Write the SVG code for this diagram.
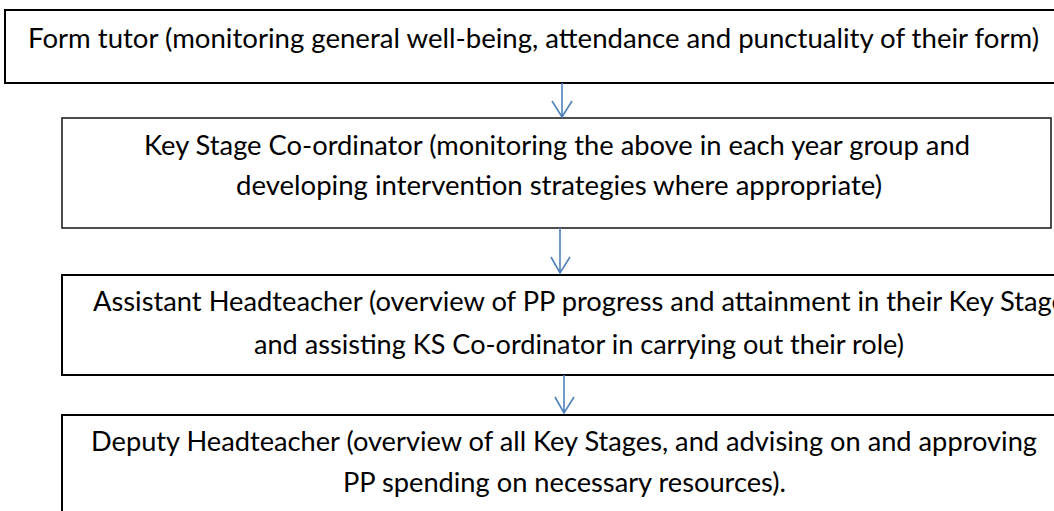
<svg xmlns="http://www.w3.org/2000/svg" width="1054" height="511" viewBox="0 0 1054 511">
<style>
.box{fill:#ffffff;stroke:#000000;stroke-width:2}
.thin{stroke:#222222;stroke-width:1.6}
.t{font-family:Lato,"Open Sans","Liberation Sans",sans-serif;font-size:26px;fill:#000000}
.arr{fill:none;stroke:#4f81bd;stroke-width:1.6}
</style>
<rect width="1054" height="511" fill="#ffffff"/>
<g id="node-form-tutor">
<rect class="box" x="5" y="10" width="1070" height="73"/>
<text class="t" x="28" y="48" textLength="1011" lengthAdjust="spacingAndGlyphs">Form tutor (monitoring general well-being, attendance and punctuality of their form)</text>
</g>
<g id="node-ks-coordinator">
<rect class="box thin" x="62" y="118" width="989" height="110"/>
<text class="t" x="144" y="155" textLength="826" lengthAdjust="spacingAndGlyphs">Key Stage Co-ordinator (monitoring the above in each year group and</text>
<text class="t" x="236" y="195" textLength="646" lengthAdjust="spacingAndGlyphs">developing intervention strategies where appropriate)</text>
</g>
<g id="node-assistant-head">
<rect class="box" x="62" y="275" width="1020" height="100"/>
<text class="t" x="93" y="311" textLength="973" lengthAdjust="spacingAndGlyphs">Assistant Headteacher (overview of PP progress and attainment in their Key Stage</text>
<text class="t" x="254" y="354" textLength="650" lengthAdjust="spacingAndGlyphs">and assisting KS Co-ordinator in carrying out their role)</text>
</g>
<g id="node-deputy-head">
<rect class="box" x="62" y="415" width="1020" height="120"/>
<text class="t" x="91" y="451" textLength="946" lengthAdjust="spacingAndGlyphs">Deputy Headteacher (overview of all Key Stages, and advising on and approving</text>
<text class="t" x="343" y="492" textLength="443" lengthAdjust="spacingAndGlyphs">PP spending on necessary resources).</text>
</g>
<g id="connectors">
<path class="arr" d="M562,83 V117 M552,101 L562,117 L572,101"/>
<path class="arr" d="M560,228 V273 M551,257 L560,273 L570,257"/>
<path class="arr" d="M564,375 V413 M555,397 L564,413 L574,397"/>
</g>
</svg>
